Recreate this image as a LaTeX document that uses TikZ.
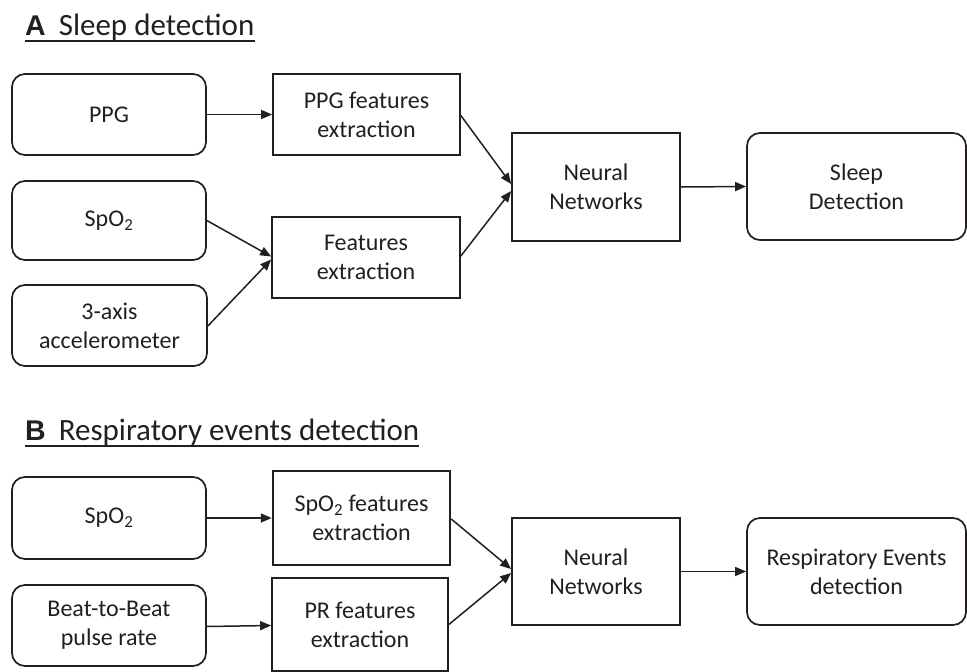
\documentclass[tikz,border=0pt]{standalone}
\usepackage{fontspec}
\setmainfont{Carlito}
\newfontfamily\labelfont{Liberation Sans}
\usetikzlibrary{arrows.meta}
\newcommand{\subtwo}{\textsubscript{2}}
\definecolor{ink}{HTML}{231F20}
\tikzset{
  box/.style={draw=ink, line width=1.7pt, inner sep=0pt, align=center, text=ink,
    font=\fontsize{24}{29}\selectfont},
  roundbox/.style={box, rounded corners=13pt},
  flow/.style={draw=ink, line width=1.5pt, -{Triangle[length=11pt,width=9pt]}},
  heading/.style={anchor=base west, inner sep=0pt, text=ink, font=\fontsize{31}{36}\selectfont}
}
\begin{document}
\begin{tikzpicture}[x=1pt,y=-1pt]
\useasboundingbox (0,0) rectangle (967,672);

% ---- Panel A: sleep detection ----
\node[heading] (tA) at (25,35) {{\labelfont\bfseries\fontsize{28.5}{30}\selectfont A}\hspace{13pt}Sleep detection};
\draw[ink, line width=2.4pt] ([yshift=-6pt]tA.base west) -- ([yshift=-6pt]tA.base east);

\node[roundbox, minimum width=194pt, minimum height=81pt] (ppg) at (109,114.5) {PPG};
\node[box, minimum width=187pt, minimum height=81pt] (ppgf) at (366.5,114.5) {PPG features\\extraction};
\node[roundbox, minimum width=194pt, minimum height=79pt] (spo2) at (109,220.5) {SpO\subtwo};
\node[box, minimum width=188pt, minimum height=81pt] (feat) at (366,257.5) {Features\\extraction};
\node[roundbox, minimum width=195pt, minimum height=81pt] (acc) at (109.5,325.5) {3-axis\\accelerometer};
\node[box, minimum width=168pt, minimum height=108pt] (nnA) at (596,187) {Neural\\Networks};
\node[roundbox, minimum width=219pt, minimum height=107pt] (sleep) at (856.5,186.5) {Sleep\\Detection};

\draw[flow] (ppg.east) -- (ppgf.west);
\draw[flow] (spo2.east) -- ([yshift=1pt]feat.west);
\draw[flow] ([yshift=-0.5pt]acc.east) -- ([yshift=-2pt]feat.west);
\draw[flow] ([yshift=-1pt]ppgf.east) -- ([yshift=3pt]nnA.west);
\draw[flow] ([yshift=1.5pt]feat.east) -- ([yshift=-4pt]nnA.west);
\draw[flow] (nnA.east) -- (sleep.west);

% ---- Panel B: respiratory events detection ----
\node[heading] (tB) at (25,440) {{\labelfont\bfseries\fontsize{28.5}{30}\selectfont B}\hspace{13pt}Respiratory events detection};
\draw[ink, line width=2.4pt] ([yshift=-6pt]tB.base west) -- ([yshift=-6pt]tB.base east);

\node[roundbox, minimum width=194pt, minimum height=82pt] (spo2B) at (109,518) {SpO\subtwo};
\node[box, line width=2.5pt, minimum width=177pt, minimum height=94pt] (spo2fB) at (361.5,518) {SpO\subtwo{} features\\extraction};
\node[roundbox, minimum width=194pt, minimum height=81pt] (beat) at (109,625.5) {Beat-to-Beat\\pulse rate};
\node[box, minimum width=176pt, minimum height=93pt] (prf) at (360,624.5) {PR features\\extraction};
\node[box, minimum width=168pt, minimum height=107pt] (nnB) at (596,571.5) {Neural\\Networks};
\node[roundbox, minimum width=219pt, minimum height=107pt] (resp) at (856.5,571.5) {Respiratory Events\\detection};

\draw[flow] (spo2B.east) -- (spo2fB.west);
\draw[flow] ([yshift=-1pt]beat.east) -- ([yshift=-1pt]prf.west);
\draw[flow] ([yshift=-1pt]spo2fB.east) -- ([yshift=2.5pt]nnB.west);
\draw[flow] (prf.east) -- ([yshift=-1.5pt]nnB.west);
\draw[flow] (nnB.east) -- (resp.west);
\end{tikzpicture}
\end{document}
